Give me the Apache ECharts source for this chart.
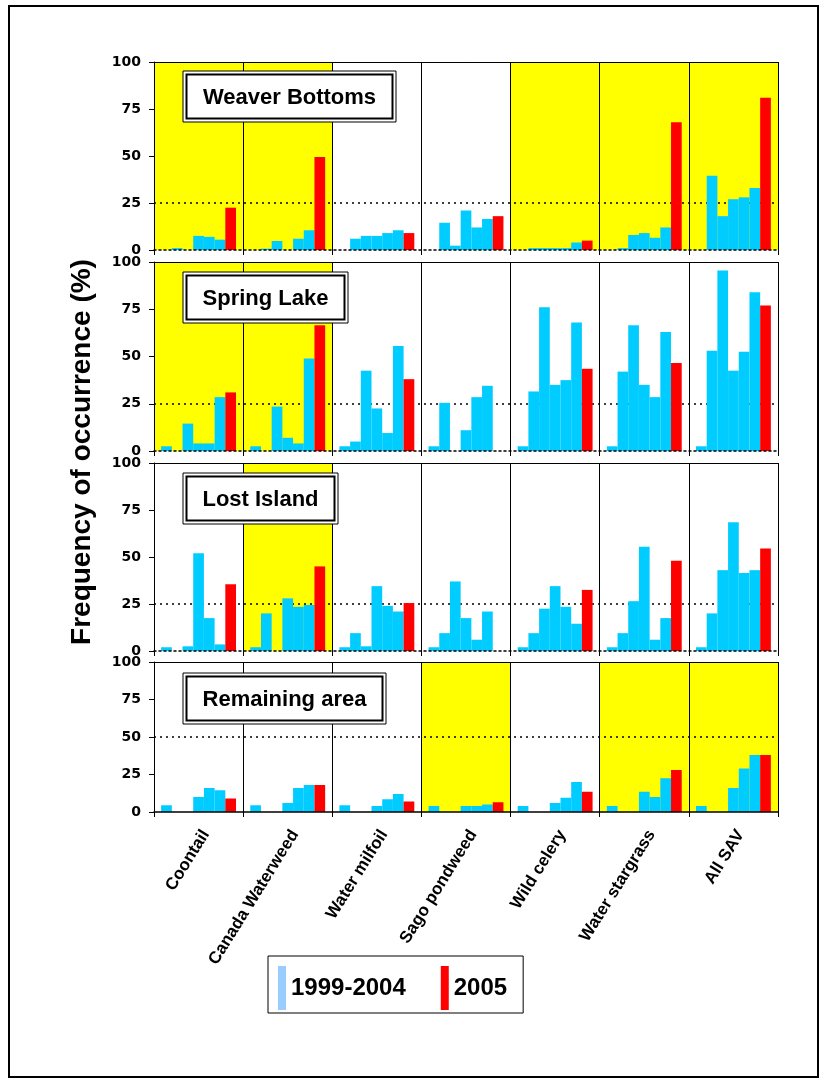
<!DOCTYPE html>
<html><head><meta charset="utf-8">
<script src="https://cdn.jsdelivr.net/npm/echarts@6/dist/echarts.min.js"></script>
<style>html,body{margin:0;padding:0;background:#fff}#c{width:828px;height:1083px}</style>
</head><body><div id="c"></div><script>
const species = ['Coontail','Canada Waterweed','Water milfoil','Sago pondweed','Wild celery','Water stargrass','All SAV'];
const panelNames = ['Weaver Bottoms','Spring Lake','Lost Island','Remaining area'];
const yTicks = [0,25,50,75,100];
// 1999-2004 values: one row per species, six years each
const weaverEarly = [[0,1,0,7.5,7,5.5],[0,0.7,4.8,0,6,10.5],[0,6,7.5,7.5,9,10.5],[0,14.5,2.3,21,12,16.5],[0,1,1,1,1,4],[0,1,8,9,6.5,12],[0,39.5,18,27,28,33]];
const weaver2005 = [22.5,49.5,9,18,5,68,81];
const springEarly = [[2.5,0,14.5,4,4,28.5],[2.5,0,23.5,7,4,49],[2.5,5,42.5,22.5,9.5,55.5],[2.5,25.5,0,11,28.5,34.5],[2.5,31.5,76,35,37.5,68],[2.5,42,66.5,35,28.5,63],[2.5,53,95.5,42.5,52.5,84]];
const spring2005 = [31,66.5,38,0,43.5,46.5,77];
const lostEarly = [[2,0,2.5,52,17.5,3.5],[2,20,0,28,23.5,24.5],[2,9.5,2.5,34.5,24,21],[2,9.5,37,17.5,6,21],[2,9.5,22.5,34.5,23.5,14.5],[2,9.5,26.5,55.5,6,17.5],[2,20,43,68.5,41.5,43]];
const lost2005 = [35.5,45,25.5,0,32.5,48,54.5];
const remainEarly = [[4.5,0,0,10,16,14.5],[4.5,0,0,6,16,18],[4.5,0,0,4,8.5,12],[4,0,0,4,4,5],[4,0,0,6,9.5,20],[4,0,0,13.5,10,22.5],[4,0,0,16,29,38]];
const remain2005 = [9,18,7,6.5,13.5,28,38];
// yellow-highlighted cells (1 = yellow)
const weaverHighlight = [1,1,0,0,1,1,1];
const springHighlight = [1,1,0,0,0,0,0];
const lostHighlight = [0,1,0,0,0,0,0];
const remainHighlight = [0,0,0,1,0,1,1];
const refLines = [25,25,25,50];

const early = [weaverEarly, springEarly, lostEarly, remainEarly];
const late = [weaver2005, spring2005, lost2005, remain2005];
const highlight = [weaverHighlight, springHighlight, lostHighlight, remainHighlight];

const FONT = "'Liberation Sans', Arial, sans-serif";
const CYAN = '#00CCFF', RED = '#FF0000', YELLOW = '#FFFF00';
const gridBoxes = [
  {top: 62, height: 188},
  {top: 262, height: 189},
  {top: 463, height: 188},
  {top: 662, height: 150}
];
const titleBoxes = [
  {x: 183, y: 71, w: 213, h: 51},
  {x: 183, y: 272, w: 165, h: 51},
  {x: 183, y: 473, w: 155, h: 51},
  {x: 183, y: 673, w: 203, h: 51}
];

const grid = [], xAxis = [], yAxis = [], series = [], graphic = [];
gridBoxes.forEach((g, p) => {
  grid.push({left: 154, right: 50, top: g.top, height: g.height});
  const isLast = p === 3;
  xAxis.push({
    type: 'category', gridIndex: p, data: species, position: 'bottom', zlevel: 1, z: 6,
    axisLine: {show: true, lineStyle: {color: '#000', width: 1.5, type: isLast ? 'solid' : [2, 3]}},
    axisTick: {show: true, interval: 0, length: 5, lineStyle: {color: '#000'}},
    splitLine: {show: true, interval: 0, lineStyle: {color: '#000', width: 1}},
    axisLabel: isLast ? {show: true, interval: 0, rotate: 58, margin: 15, verticalAlign: 'top', fontSize: 17, fontWeight: 'bold', color: '#000', fontFamily: FONT} : {show: false, interval: 0}
  });
  xAxis.push({
    type: 'category', gridIndex: p, data: species, position: 'top', zlevel: 1, z: 6,
    axisLine: {show: true, lineStyle: {color: '#000', width: 1}},
    axisTick: {show: false}, axisLabel: {show: false}, splitLine: {show: false}
  });
  yAxis.push({
    type: 'value', gridIndex: p, min: 0, max: 100, interval: 25, zlevel: 1, z: 6,
    axisLine: {show: true, lineStyle: {color: '#000', width: 1}},
    axisTick: {show: true, length: 5, lineStyle: {color: '#000'}},
    splitLine: {show: false},
    axisLabel: {show: true, margin: 13, fontSize: 14, fontWeight: 'bold', color: '#000', fontFamily: "'DejaVu Sans', sans-serif",
      formatter: v => yTicks.includes(v) ? String(v) : ''}
  });
  // background yellow cells (bottom layer)
  series.push({
    type: 'bar', name: 'highlight', xAxisIndex: 2 * p + 1, yAxisIndex: p, silent: true, zlevel: 0, z: 1,
    barWidth: '100%', itemStyle: {color: YELLOW},
    data: highlight[p].map(h => h ? 100 : '-'),
    markLine: {
      silent: true, symbol: 'none', zlevel: 0, z: 5, label: {show: false},
      lineStyle: {color: '#000', width: 1.5, type: [2, 4]},
      data: [{yAxis: refLines[p]}]
    }
  });
  for (let k = 0; k < 6; k++) {
    series.push({
      type: 'bar', name: '1999-2004', xAxisIndex: 2 * p, yAxisIndex: p, zlevel: 1, z: 3,
      barGap: '0%', barCategoryGap: '16%', itemStyle: {color: CYAN},
      data: early[p].map(row => row[k])
    });
  }
  series.push({
    type: 'bar', name: '2005', xAxisIndex: 2 * p, yAxisIndex: p, zlevel: 1, z: 3,
    barGap: '0%', barCategoryGap: '16%', itemStyle: {color: RED},
    data: late[p]
  });
  const b = titleBoxes[p];
  graphic.push({type: 'rect', zlevel: 2, z: 100, shape: {x: b.x, y: b.y, width: b.w, height: b.h}, style: {fill: '#fff', stroke: '#000', lineWidth: 1}});
  graphic.push({type: 'rect', zlevel: 2, z: 101, shape: {x: b.x + 3.5, y: b.y + 3.5, width: b.w - 7, height: b.h - 7}, style: {fill: '#fff', stroke: '#000', lineWidth: 2}});
  graphic.push({type: 'text', zlevel: 2, z: 102, x: b.x + b.w / 2, y: b.y + b.h / 2 + 1, style: {text: panelNames[p], textAlign: 'center', textVerticalAlign: 'middle', font: "bold 22px " + FONT, fill: '#000'}});
});

graphic.push({type: 'rect', zlevel: 2, z: 100, shape: {x: 9, y: 6, width: 809, height: 1071}, style: {fill: 'none', stroke: '#000', lineWidth: 2}});
graphic.push({type: 'text', zlevel: 2, z: 100, x: 82, y: 452, rotation: Math.PI / 2,
  style: {text: 'Frequency of occurrence (%)', x: 0, y: 0, textAlign: 'center', textVerticalAlign: 'middle', font: "bold 28px " + FONT, fill: '#000'}});

const chart = echarts.init(document.getElementById('c'), null, {renderer: 'canvas'});
chart.setOption({
  animation: false,
  backgroundColor: '#fff',
  grid, xAxis, yAxis, series, graphic,
  legend: {
    left: 268, top: 956, orient: 'horizontal', zlevel: 2,
    itemWidth: 8, itemHeight: 44, itemGap: 35,
    padding: [10, 16, 3, 10],
    borderColor: '#000', borderWidth: 1, backgroundColor: '#fff',
    textStyle: {fontSize: 24, fontWeight: 'bold', color: '#000', fontFamily: FONT},
    data: [
      {name: '1999-2004', icon: 'rect', itemStyle: {color: '#99CCFF'}},
      {name: '2005', icon: 'rect', itemStyle: {color: RED}}
    ]
  }
});
</script></body></html>
